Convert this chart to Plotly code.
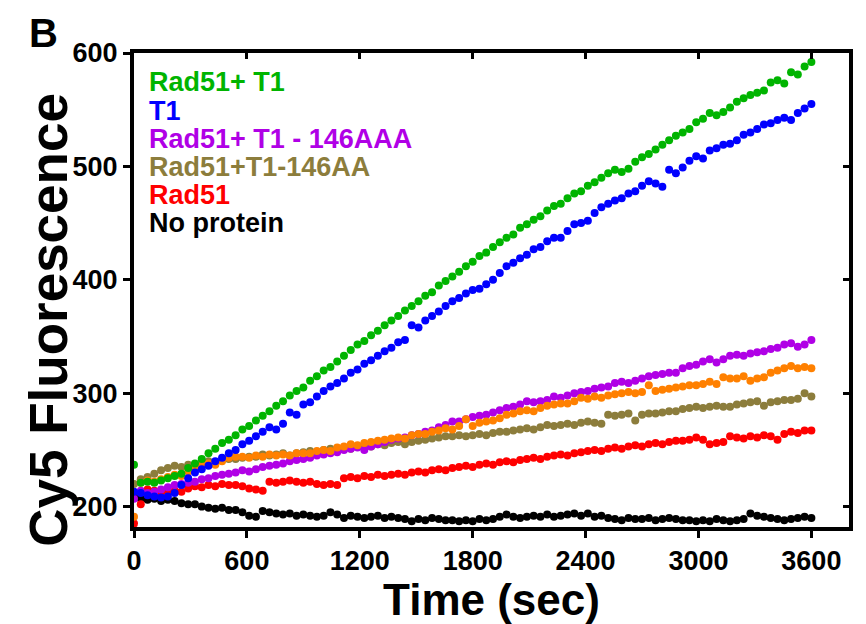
import plotly.graph_objects as go

# ---- data ----
TIME = list(range(0, 3601, 36))  # seconds

rad51_t1 = [
    237, 221, 222, 221, 223, 225, 227, 229, 234, 238,
    242, 247, 251, 256, 259, 263, 268, 271, 276, 280,
    284, 289, 293, 298, 302, 305, 311, 315, 320, 323,
    328, 333, 338, 343, 346, 351, 355, 360, 364, 368,
    373, 377, 381, 386, 389, 395, 399, 403, 407, 412,
    416, 421, 424, 429, 433, 437, 440, 446, 449, 453,
    456, 461, 465, 467, 472, 476, 478, 483, 486, 490,
    494, 497, 495, 498, 504, 508, 511, 515, 519, 523,
    527, 530, 533, 539, 542, 547, 545, 548, 552, 557,
    560, 563, 565, 567, 574, 576, 573, 583, 581, 588,
    592]

t1 = [
    213, 212, 210, 209, 208, 209, 212, 219, 225, 230,
    233, 236, 240, 243, 247, 250, 255, 258, 262, 266,
    270, 268, 273, 283, 281, 290, 292, 297, 302, 306,
    309, 313, 318, 321, 326, 329, 333, 337, 340, 345,
    347, 360, 358, 364, 368, 372, 377, 381, 384, 388,
    391, 392, 396, 400, 406, 412, 415, 419, 422, 427,
    429, 434, 437, 437, 443, 449, 450, 452, 459, 464,
    467, 470, 472, 476, 478, 483, 487, 485, 482, 497,
    494, 499, 505, 509, 507, 514, 516, 519, 520, 523,
    528, 530, 533, 537, 538, 541, 543, 541, 547, 551,
    555]

rad51_t1_146aaa = [
    207, 214, 212, 213, 215, 217, 219, 220, 221, 222,
    224, 225, 227, 228, 229, 230, 232, 231, 233, 235,
    236, 237, 238, 240, 241, 242, 243, 245, 246, 247,
    248, 250, 251, 252, 250, 253, 255, 257, 259, 260,
    261, 263, 264, 266, 267, 270, 272, 275, 275, 277,
    279, 280, 281, 283, 285, 287, 288, 290, 293, 292,
    293, 294, 297, 296, 298, 300, 301, 302, 304, 305,
    306, 309, 310, 309, 311, 313, 315, 316, 317, 318,
    318, 322, 324, 325, 328, 330, 327, 330, 333, 334,
    333, 335, 336, 337, 339, 340, 343, 344, 341, 343,
    347]

orange_series = [
    191, 221, 223, 222, 224, 226, 228, 227, 231, 233,
    236, 238, 237, 240, 243, 244, 244, 243, 245, 244,
    246, 245, 246, 245, 247, 247, 247, 249, 250, 249,
    252, 253, 255, 254, 256, 257, 258, 259, 260, 261,
    260, 263, 264, 264, 266, 267, 269, 268, 271, 277,
    271, 274, 275, 276, 278, 281, 282, 284, 285, 284,
    287, 289, 290, 291, 291, 293, 296, 295, 297, 296,
    298, 299, 300, 301, 300, 301, 307, 302, 303, 304,
    305, 306, 307, 307, 308, 310, 308, 314, 313, 313,
    315, 311, 313, 314, 318, 320, 322, 324, 322, 323,
    322]

rad51_t1_146aa = [
    220, 224, 226, 229, 232, 234, 236, 235, 237, 236,
    238, 240, 239, 241, 242, 242, 243, 244, 244, 246,
    245, 246, 247, 245, 247, 248, 249, 248, 250, 251,
    250, 252, 251, 253, 254, 253, 255, 254, 256, 257,
    255, 257, 258, 259, 260, 261, 262, 262, 263, 262,
    263, 264, 263, 265, 266, 266, 267, 268, 269, 268,
    270, 272, 271, 272, 273, 272, 274, 275, 274, 273,
    281, 280, 281, 282, 276, 281, 282, 282, 283, 284,
    284, 286, 287, 288, 287, 288, 289, 288, 288, 290,
    291, 292, 293, 289, 292, 293, 294, 294, 295, 300,
    297]

rad51 = [
    185, 202, 215, 214, 212, 213, 214, 213, 216, 218,
    217, 219, 218, 220, 219, 219, 218, 216, 215, 214,
    222, 221, 222, 223, 222, 221, 222, 220, 219, 220,
    219, 225, 226, 225, 227, 226, 228, 227, 228, 229,
    228, 230, 231, 230, 232, 233, 232, 234, 235, 236,
    235, 237, 238, 237, 239, 240, 239, 241, 242, 243,
    242, 244, 245, 246, 245, 247, 248, 249, 250, 249,
    251, 252, 251, 253, 254, 253, 255, 256, 255, 257,
    258, 258, 259, 261, 259, 255, 256, 257, 262, 261,
    260, 262, 261, 263, 262, 259, 264, 266, 265, 267,
    267]

no_protein = [
    209, 207, 206, 207, 205, 206, 205, 203, 202, 202,
    200, 199, 198, 199, 197, 197, 195, 192, 191, 196,
    195, 194, 193, 194, 192, 193, 192, 191, 192, 195,
    193, 190, 192, 191, 190, 191, 192, 190, 191, 190,
    189, 187, 189, 188, 190, 189, 188, 188, 187, 188,
    187, 189, 188, 189, 191, 193, 191, 190, 191, 192,
    191, 193, 191, 192, 193, 194, 192, 194, 191, 192,
    190, 189, 188, 190, 189, 189, 190, 188, 189, 190,
    189, 188, 188, 187, 188, 187, 189, 188, 187, 188,
    189, 194, 192, 191, 190, 189, 188, 189, 190, 191,
    190]

X_TICKS = [0, 600, 1200, 1800, 2400, 3000, 3600]
Y_TICKS = [200, 300, 400, 500, 600]

LEGEND_LABELS = ["Rad51+ T1", "T1", "Rad51+ T1 - 146AAA", "Rad51+T1-146AA", "Rad51", "No protein"]
LEGEND_COLORS = ["#00B400", "#0000FF", "#B000E6", "#8C7D3C", "#FF0000", "#000000"]

# drawing order (bottom to top) -> (values, colour, name)
series = [
    (no_protein, "#000000", "No protein"),
    (rad51, "#FF0000", "Rad51"),
    (rad51_t1_146aa, "#8C7D3C", "Rad51+T1-146AA"),
    (rad51_t1_146aaa, "#B000E6", "Rad51+ T1 - 146AAA"),
    (orange_series, "#FF8000", "orange"),
    (t1, "#0000FF", "T1"),
    (rad51_t1, "#00B400", "Rad51+ T1"),
]

FONT = "Liberation Sans, Arial, Helvetica, sans-serif"
XR = [0, 3800]
YR = [182, 600]

fig = go.Figure()
for vals, col, name in series:
    fig.add_trace(go.Scatter(
        x=TIME, y=vals, mode="markers", name=name, showlegend=False,
        marker=dict(size=8, color=col, line=dict(width=0)),
    ))

# invisible trace to carry the mirrored (inside) tick axes
fig.add_trace(go.Scatter(x=[None], y=[None], xaxis="x2", yaxis="y2",
                         showlegend=False, hoverinfo="skip"))

axis_common = dict(showgrid=False, zeroline=False, showline=True, linecolor="black",
                   linewidth=4, mirror=True, ticks="outside", ticklen=7, tickwidth=3,
                   tickcolor="black",
                   tickfont=dict(family=FONT, size=27, color="black", weight="bold"))

fig.update_layout(
    width=858, height=616,
    margin=dict(l=126, r=17, t=45, b=97),
    paper_bgcolor="white", plot_bgcolor="white",
    showlegend=False,
    xaxis=dict(range=XR, tickvals=X_TICKS, ticktext=[str(v) for v in X_TICKS],
               title=dict(text="Time (sec)", standoff=0,
                          font=dict(family=FONT, size=44, color="black", weight="bold")),
               **axis_common),
    yaxis=dict(range=YR, tickvals=Y_TICKS, ticktext=[str(v) for v in Y_TICKS], **axis_common),
    xaxis2=dict(overlaying="x", side="top", range=XR, tickvals=X_TICKS, ticks="inside",
                ticklen=6, tickwidth=3, tickcolor="black", showticklabels=False,
                showgrid=False, zeroline=False, showline=False),
    yaxis2=dict(overlaying="y", side="right", range=YR, tickvals=Y_TICKS, ticks="inside",
                ticklen=6, tickwidth=3, tickcolor="black", showticklabels=False,
                showgrid=False, zeroline=False, showline=False),
)

# y-axis title (placed as in the reference, slightly below the plot centre)
fig.add_annotation(text="Cy5 Fluorescence", xref="paper", yref="paper",
                   x=-0.119, y=0.437, textangle=-90, showarrow=False,
                   xanchor="center", yanchor="middle",
                   font=dict(family=FONT, size=53, color="black", weight="bold"))

# panel letter
fig.add_annotation(text="B", xref="paper", yref="paper", x=-0.150, y=1.042,
                   showarrow=False, xanchor="left", yanchor="middle",
                   font=dict(family=FONT, size=40, color="black", weight="bold"))

# coloured legend text
legend_y = [0.9378, 0.8785, 0.8192, 0.7599, 0.7006, 0.6414]
for lab, col, yy in zip(LEGEND_LABELS, LEGEND_COLORS, legend_y):
    fig.add_annotation(text=lab, xref="paper", yref="paper", x=0.018, y=yy,
                       showarrow=False, xanchor="left", yanchor="middle",
                       font=dict(family=FONT, size=27, color=col, weight="bold"))

fig.write_html("out.html")
